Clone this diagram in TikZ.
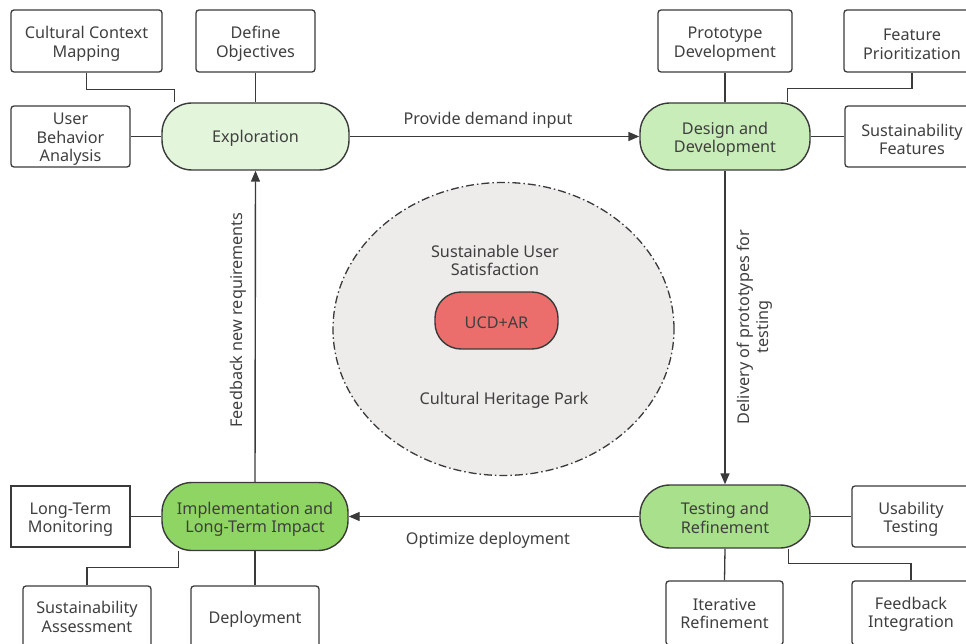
\documentclass[tikz,border=0pt]{standalone}
\usepackage{fontspec}
\setmainfont{Noto Sans}
\usetikzlibrary{arrows.meta,backgrounds,shapes.geometric}
\definecolor{linegray}{HTML}{3A3A3A}
\definecolor{textgray}{HTML}{3F3F3F}
\definecolor{stageone}{HTML}{E3F5DB}
\definecolor{stagetwo}{HTML}{C8EDB8}
\definecolor{stagethree}{HTML}{A9E08C}
\definecolor{stagefour}{HTML}{8FD563}
\definecolor{hubred}{HTML}{EB6E6C}
\definecolor{parkgray}{HTML}{EEEBEB}

\tikzset{lines/.style={execute at begin node={\rule{0pt}{#1}}}, lines/.default=36.8pt}

\begin{document}
\begin{tikzpicture}[x=1pt,y=-1pt]
        \tikzstyle{every node}=[font=\fontsize{16.2}{18.5}\selectfont, text=textgray, align=center,
                                execute at begin node={\rule{0pt}{16.5pt}}]
        \tikzstyle{stage}=[draw=linegray, line width=1.4pt, rounded corners=30pt, minimum width=187pt, minimum height=67pt]
        \tikzstyle{item}=[draw=linegray, line width=1.3pt, rounded corners=3pt, inner sep=0pt]
        \tikzstyle{link}=[draw=linegray, line width=1.3pt]
        \tikzstyle{flow}=[draw=linegray, line width=1.4pt, -{Triangle[length=11pt,width=9pt]}]
        \useasboundingbox (0,0) rectangle (966,644);
        \clip (0,0) rectangle (966,644);

        % centre of the cycle
        \node[ellipse, draw=linegray, line width=1.3pt, fill=parkgray,
              dash pattern=on 8pt off 3pt on 1.5pt off 3pt,
              minimum width=341pt, minimum height=293pt, inner sep=0pt] (park) at (503.5,329) {};
        \node[lines] (satisfaction) at (495,257.5) {Sustainable User\\Satisfaction};
        \node[stage, fill=hubred, rounded corners=26pt, minimum width=123pt, minimum height=57pt] (hub) at (496.5,320.5) {UCD+AR};
        \node (heritage) at (504,398) {Cultural Heritage Park};

        % the four stages
        \node[stage, fill=stageone] (explore) at (255.5,136.5) {Exploration};
        \node[stage, lines, fill=stagetwo, minimum width=170pt] (design) at (725,136.5) {Design and\\Development};
        \node[stage, lines=34pt, fill=stagethree, minimum width=170pt, minimum height=63pt] (testing) at (725,516.5) {Testing and\\Refinement};
        \node[stage, lines, fill=stagefour, minimum width=186pt, minimum height=68pt] (impl) at (255,516.5) {Implementation and\\Long-Term Impact};

        % exploration
        \node[item, lines, minimum width=151pt, minimum height=62pt] (mapping) at (86.5,41) {Cultural Context\\Mapping};
        \node[item, lines, minimum width=119pt, minimum height=62pt] (objectives) at (255.5,41) {Define\\Objectives};
        \node[item, lines=54pt, minimum width=119pt, minimum height=61pt] (behavior) at (70.5,136.5) {User\\Behavior\\Analysis};

        % design
        \node[item, lines, minimum width=134pt, minimum height=62pt] (prototype) at (725,41) {Prototype\\Development};
        \node[item, lines, minimum width=136pt, minimum height=62pt] (priority) at (912,41) {Feature\\Prioritization};
        \node[item, lines, minimum width=134pt, minimum height=61pt] (features) at (912,136.5) {Sustainability\\Features};

        % testing
        \node[item, lines, minimum width=118pt, minimum height=61pt] (usability) at (911,516.5) {Usability\\Testing};
        \node[item, lines=31.5pt, minimum width=117pt, minimum height=64pt] (iterative) at (724.5,613) {Iterative\\Refinement};
        \node[item, lines=33.5pt, minimum width=118pt, minimum height=64pt] (integration) at (911,613) {Feedback\\Integration};

        % implementation
        \node[item, lines, rounded corners=0pt, line width=1.1pt, minimum width=119pt, minimum height=61pt] (monitoring) at (70.5,516.5) {Long-Term\\Monitoring};
        \node[item, lines=31pt, minimum width=128pt, minimum height=62pt] (assessment) at (87,617) {Sustainability\\Assessment};
        \node[item, minimum width=128pt, minimum height=62pt] (deployment) at (255,617) {Deployment};

        \begin{scope}[on background layer]
        \draw[link] (mapping.south) -- ++(0,17) -| ([xshift=13pt]explore.north west);
        \draw[link] (objectives.south) -- (explore.north);
        \draw[link] (behavior.east) -- (explore.west);
        \draw[link] (prototype.south) -- (design.north);
        \draw[link] (priority.south) -- ++(0,16) -| ([xshift=-23pt]design.north east);
        \draw[link] (design.east) -- (features.west);
        \draw[link] (testing.east) -- (usability.west);
        \draw[link] (testing.south) -- (iterative.north);
        \draw[link] ([xshift=-22pt]testing.south east) -- ++(0,15) -| (integration.north);
        \draw[link] (impl.west) -- (monitoring.east);
        \draw[link] (impl.south) -- (deployment.north);
        \draw[link] ([xshift=17pt]impl.south west) -- ++(0,16) -| (assessment.north);
        \end{scope}

        % the cycle
        \draw[flow] (explore.east) -- (design.west);
        \draw[flow] (design.south) -- (testing.north);
        \draw[flow] (testing.west) -- (impl.east);
        \draw[flow] (impl.north) -- (explore.south);
        \node (demand) at (488,118) {Provide demand input};
        \node[rotate=90, lines] (delivery) at (752,327) {Delivery of prototypes for\\testing};
        \node (optimize) at (488,538) {Optimize deployment};
        \node[rotate=90] (feedback) at (236,320) {Feedback new requirements};
\end{tikzpicture}
\end{document}
